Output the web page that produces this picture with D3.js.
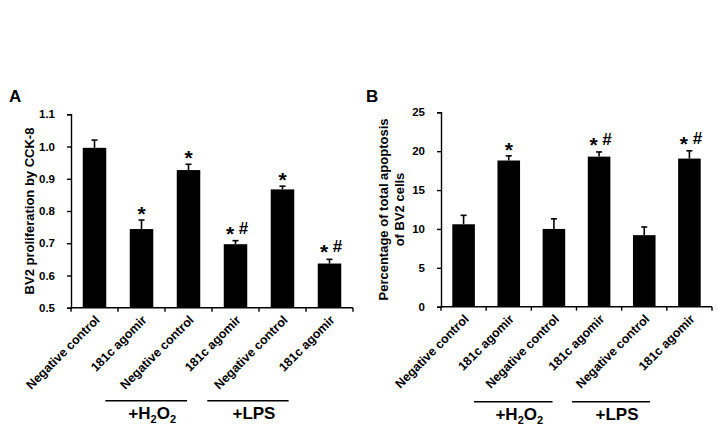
<!DOCTYPE html>
<html><head><meta charset="utf-8">
<script src="https://cdn.jsdelivr.net/npm/d3@7"></script>
<style>body{margin:0;background:#fff}svg{display:block}text{font-family:"Liberation Sans",Arial,sans-serif}</style>
</head><body>
<svg id="c" width="718" height="439"></svg>
<script>
const categories = ["Negative control","181c agomir","Negative control","181c agomir","Negative control","181c agomir"];
const valuesA = [0.996, 0.744, 0.927, 0.697, 0.867, 0.637];
const errorsA = [0.024, 0.028, 0.018, 0.011, 0.010, 0.013];
const marksA  = ["", "*", "*", "*#", "*", "*#"];
const ticksA  = [0.5, 0.6, 0.7, 0.8, 0.9, 1.0, 1.1];
const valuesB = [10.6, 18.8, 10.0, 19.3, 9.2, 19.05];
const errorsB = [1.15, 0.6, 1.3, 0.6, 1.05, 1.0];
const marksB  = ["", "*", "", "*#", "", "*#"];
const ticksB  = [0, 5, 10, 15, 20, 25];
const groupLabels = ["H2O2", "LPS"];
// layout: group underline spans in category-step units from the axis origin
const groupSpans = [[0.73, 2.47], [2.9, 4.63]];

const svg = d3.select("#c");

function panel(cfg){
  const g = svg.append("g");
  const x = d3.scaleBand().domain(d3.range(categories.length)).range([cfg.x0, cfg.x1]).paddingInner(0.5).paddingOuter(0.25);
  const y = d3.scaleLinear().domain(cfg.domain).range([cfg.y0, cfg.y1]);
  const step = x.step();
  // y axis
  const ya = g.append("g").attr("transform",`translate(${cfg.x0},0)`)
    .call(d3.axisLeft(y).tickValues(cfg.ticks).tickFormat(cfg.fmt).tickSizeOuter(0).tickSize(4).tickPadding(cfg.tickPad));
  ya.select(".domain").attr("stroke","#000").attr("stroke-width",1.4);
  ya.selectAll(".tick line").attr("stroke","#000").attr("stroke-width",1.4);
  ya.selectAll("text").attr("font-size",11.5).attr("font-weight","bold").attr("fill","#000");
  // x axis
  const xa = g.append("g").attr("transform",`translate(0,${cfg.y0})`);
  xa.append("line").attr("x1",cfg.x0).attr("x2",cfg.x1).attr("stroke","#000").attr("stroke-width",1.4);
  const bounds = d3.range(categories.length+1).map(i => cfg.x0 + i*step);
  xa.selectAll("line.tk").data(bounds).join("line").attr("class","tk")
    .attr("x1",d=>d).attr("x2",d=>d).attr("y1",0).attr("y2",4).attr("stroke","#000").attr("stroke-width",1.4);
  xa.selectAll("text.lab").data(categories).join("text").attr("class","lab")
    .attr("transform",(d,i)=>`translate(${x(i)+x.bandwidth()/2+6},${13}) rotate(-45)`)
    .attr("text-anchor","end").attr("font-size",12.5).attr("font-weight","bold").text(d=>d);
  // bars
  g.selectAll("rect.bar").data(cfg.values).join("rect").attr("class","bar")
    .attr("x",(d,i)=>x(i)).attr("width",x.bandwidth())
    .attr("y",d=>y(d)).attr("height",d=>cfg.y0 - y(d)).attr("fill","#000");
  // error bars + significance marks
  cfg.values.forEach((v,i)=>{
    const cx = x(i)+x.bandwidth()/2, top = y(v+cfg.errors[i]);
    g.append("line").attr("x1",cx).attr("x2",cx).attr("y1",y(v)).attr("y2",top).attr("stroke","#000").attr("stroke-width",1.6);
    g.append("line").attr("x1",cx-3).attr("x2",cx+3).attr("y1",top).attr("y2",top).attr("stroke","#000").attr("stroke-width",1.6);
    const m = cfg.marks[i];
    if(m === "*"){
      g.append("text").attr("x",cx).attr("y",top+1).attr("text-anchor","middle")
        .attr("font-size",21).attr("font-weight","bold").text("*");
    } else if(m === "*#"){
      g.append("text").attr("x",cx-5.5).attr("y",top).attr("text-anchor","middle")
        .attr("font-size",21).attr("font-weight","bold").text("*");
      g.append("text").attr("x",cx+8).attr("y",top-7).attr("text-anchor","middle")
        .attr("font-size",17).attr("font-weight","bold").text("#");
    }
  });
  // group lines
  groupLabels.forEach((lab,k)=>{
    const L = cfg.x0 + groupSpans[k][0]*step, R = cfg.x0 + groupSpans[k][1]*step;
    g.append("line").attr("x1",L).attr("x2",R).attr("y1",cfg.lineY).attr("y2",cfg.lineY).attr("stroke","#000").attr("stroke-width",1.6);
    const t = g.append("text").attr("x",(L+R)/2+6).attr("y",cfg.lineY+18.5).attr("text-anchor","middle")
      .attr("font-size",17).attr("font-weight","bold");
    if(lab==="H2O2"){
      t.append("tspan").text("+H");
      t.append("tspan").attr("font-size",11).attr("dy",4).text("2");
      t.append("tspan").attr("dy",-4).text("O");
      t.append("tspan").attr("font-size",11).attr("dy",4).text("2");
    } else t.text("+" + lab);
  });
  // panel letter
  svg.append("text").attr("x",cfg.letterX).attr("y",102).attr("font-size",17).attr("font-weight","bold").text(cfg.letter);
  // y title
  const yt = svg.append("text").attr("transform",`translate(${cfg.titleX},${(cfg.y0+cfg.y1)/2}) rotate(-90)`)
    .attr("text-anchor","middle").attr("font-size",cfg.titleSize).attr("font-weight","bold");
  cfg.title.forEach((s,k)=> yt.append("tspan").attr("x",0).attr("dy", k===0 ? 0 : 16).text(s));
}

panel({x0:71, x1:353, y0:307.7, y1:114.3, domain:[0.5,1.1], ticks:ticksA, fmt:d3.format(".1f"), tickPad:12,
  values:valuesA, errors:errorsA, marks:marksA, lineY:400.7, letter:"A", letterX:9, titleX:34, titleSize:13, title:["BV2 proliferation by CCK-8"]});
panel({x0:441, x1:712, y0:306.7, y1:112.3, domain:[0,25], ticks:ticksB, fmt:d3.format("d"), tickPad:12,
  values:valuesB, errors:errorsB, marks:marksB, lineY:401.7, letter:"B", letterX:366, titleX:388, titleSize:13, title:["Percentage of total apoptosis","of BV2 cells"]});
</script>
</body></html>
